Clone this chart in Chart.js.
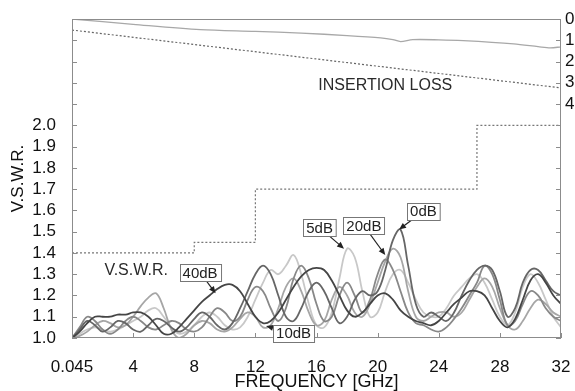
<!DOCTYPE html>
<html>
<head>
<meta charset="utf-8">
<script src="https://cdn.jsdelivr.net/npm/chart.js@4.4.0/dist/chart.umd.min.js"></script>
<style>
  html, body { margin: 0; padding: 0; background: #fff; overflow: hidden; }
  #wrap { width: 575px; height: 391px; }
</style>
</head>
<body>
<div id="wrap"><canvas id="vswr" width="575" height="391"></canvas></div>
<script>
// frequency grid of the measured traces (GHz)
const freqGHz = [
  0, 0.5, 1, 1.5, 2, 2.5, 3, 3.5,
  4, 4.5, 5, 5.5, 6, 6.5, 7, 7.5,
  8, 8.5, 9, 9.5, 10, 10.5, 11, 11.5,
  12, 12.5, 13, 13.5, 14, 14.5, 15, 15.5,
  16, 16.5, 17, 17.5, 18, 18.5, 19, 19.5,
  20, 20.5, 21, 21.5, 22, 22.5, 23, 23.5,
  24, 24.5, 25, 25.5, 26, 26.5, 27, 27.5,
  28, 28.5, 29, 29.5, 30, 30.5, 31, 31.5,
  32
];

// V.S.W.R. per attenuation setting
const vswr0dB = [
  1.00, 1.04, 1.08, 1.06, 1.03, 1.05, 1.08, 1.07,
  1.04, 1.03, 1.06, 1.09, 1.08, 1.05, 1.03, 1.05,
  1.09, 1.12, 1.10, 1.06, 1.04, 1.07, 1.14, 1.22,
  1.30, 1.34, 1.30, 1.20, 1.10, 1.08, 1.14, 1.22,
  1.26, 1.22, 1.14, 1.07, 1.10, 1.18, 1.22, 1.20,
  1.22, 1.32, 1.46, 1.51, 1.34, 1.16, 1.10, 1.12,
  1.10, 1.08, 1.12, 1.20, 1.27, 1.32, 1.34, 1.32,
  1.22, 1.10, 1.14, 1.26, 1.32, 1.32, 1.27, 1.22,
  1.20
];
const vswr5dB = [
  1.00, 1.02, 1.04, 1.05, 1.04, 1.03, 1.04, 1.06,
  1.08, 1.10, 1.13, 1.14, 1.10, 1.05, 1.02, 1.03,
  1.06, 1.10, 1.12, 1.10, 1.06, 1.04, 1.05, 1.10,
  1.18, 1.26, 1.32, 1.30, 1.34, 1.39, 1.30, 1.16,
  1.06, 1.05, 1.12, 1.28, 1.42, 1.38, 1.22, 1.10,
  1.12, 1.22, 1.30, 1.32, 1.26, 1.18, 1.12, 1.10,
  1.10, 1.14, 1.20, 1.24, 1.28, 1.30, 1.26, 1.18,
  1.10, 1.06, 1.12, 1.24, 1.30, 1.26, 1.18, 1.10,
  1.05
];
const vswr10dB = [
  1.00, 1.01, 1.03, 1.06, 1.08, 1.07, 1.05, 1.06,
  1.10, 1.15, 1.19, 1.21, 1.14, 1.04, 1.00, 1.02,
  1.06, 1.08, 1.07, 1.04, 1.03, 1.05, 1.09, 1.12,
  1.10, 1.05, 1.06, 1.14, 1.24, 1.28, 1.22, 1.12,
  1.06, 1.08, 1.18, 1.24, 1.20, 1.12, 1.10, 1.16,
  1.26, 1.36, 1.42, 1.38, 1.22, 1.10, 1.08, 1.10,
  1.12, 1.12, 1.10, 1.12, 1.18, 1.24, 1.28, 1.24,
  1.14, 1.06, 1.04, 1.08, 1.14, 1.18, 1.16, 1.12,
  1.10
];
const vswr20dB = [
  1.00, 1.05, 1.10, 1.08, 1.04, 1.02, 1.04, 1.08,
  1.10, 1.08, 1.05, 1.04, 1.06, 1.08, 1.07, 1.04,
  1.03, 1.05, 1.10, 1.14, 1.12, 1.08, 1.10, 1.18,
  1.24, 1.22, 1.14, 1.08, 1.14, 1.28, 1.34, 1.28,
  1.16, 1.08, 1.10, 1.20, 1.26, 1.20, 1.12, 1.18,
  1.30, 1.37, 1.32, 1.22, 1.12, 1.07, 1.06, 1.04,
  1.03, 1.05, 1.09, 1.14, 1.20, 1.26, 1.34, 1.30,
  1.18, 1.06, 1.08, 1.16, 1.22, 1.20, 1.14, 1.10,
  1.08
];
const vswr40dB = [
  1.00, 1.03, 1.07, 1.10, 1.10, 1.10, 1.11, 1.11,
  1.12, 1.12, 1.10, 1.06, 1.02, 1.02, 1.05, 1.09,
  1.13, 1.17, 1.20, 1.23, 1.25, 1.25, 1.22, 1.16,
  1.10, 1.07, 1.08, 1.12, 1.18, 1.24, 1.29, 1.32,
  1.33, 1.32, 1.27, 1.20, 1.13, 1.10, 1.12, 1.16,
  1.20, 1.21, 1.18, 1.13, 1.10, 1.08, 1.07, 1.06,
  1.08, 1.12, 1.16, 1.19, 1.22, 1.22, 1.20, 1.14,
  1.08, 1.05, 1.09, 1.18, 1.27, 1.30, 1.26, 1.20,
  1.16
];

// V.S.W.R. specification limit (step line)
const specFreq = [0, 8, 12, 26.5, 32];
const specVswr = [1.4, 1.45, 1.7, 2.0, 2.0];

// insertion loss (dB, right axis)
const lossFreq = [0, 4, 8.4, 12, 15, 18, 20.2, 21, 21.5, 22.3, 24, 25.6, 28.9, 30.5, 31.3, 32];
const lossMeasured = [0, 0.25, 0.5, 0.58, 0.66, 0.78, 0.89, 0.97, 1.06, 0.97, 0.98, 1.02, 1.17, 1.30, 1.36, 1.31];
const lossSpecFreq = [0, 32];
const lossSpec = [0.52, 3.24];

// tick labels
const freqTickLabels = ['0.045', '4', '8', '12', '16', '20', '24', '28', '32'];
const vswrTickLabels = ['1.0', '1.1', '1.2', '1.3', '1.4', '1.5', '1.6', '1.7', '1.8', '1.9', '2.0'];
const lossTickLabels = ['0', '1', '2', '3', '4'];

// callout boxes: text, box centre and arrow tip in data units
const callouts = [
  { text: '40dB', x: 8.38, y: 1.308, tipX: 9.4, tipY: 1.21 },
  { text: '5dB', x: 16.2, y: 1.519, tipX: 17.8, tipY: 1.42 },
  { text: '20dB', x: 19.1, y: 1.528, tipX: 20.5, tipY: 1.39 },
  { text: '0dB', x: 23.0, y: 1.596, tipX: 21.4, tipY: 1.51 },
  { text: '10dB', x: 14.5, y: 1.023, tipX: 12.7, tipY: 1.056 }
];

const FONT = '"Liberation Sans", Arial, Helvetica, sans-serif';
const pts = (xs, ys) => xs.map((x, i) => ({ x: x, y: ys[i] }));

const trace = (label, ys, color) => ({
  label: label,
  data: pts(freqGHz, ys),
  borderColor: color,
  borderWidth: 1.8,
  pointRadius: 0,
  tension: 0.4,
  yAxisID: 'y'
});

const decor = {
  id: 'decor',
  afterDatasetsDraw(chart) {
    const { ctx, chartArea: a, scales } = chart;
    const x = scales.x, y = scales.y, y2 = scales.y2;
    ctx.save();

    // frame
    ctx.strokeStyle = '#8c8c8c';
    ctx.lineWidth = 1;
    ctx.strokeRect(a.left + 0.5, a.top + 0.5, a.right - a.left - 1, a.bottom - a.top - 1);

    // inner tick marks
    ctx.beginPath();
    y.ticks.forEach(t => {
      const py = Math.round(y.getPixelForValue(t.value)) + 0.5;
      ctx.moveTo(a.left, py); ctx.lineTo(a.left + 5, py);
      ctx.moveTo(a.right, py); ctx.lineTo(a.right - 5, py);
    });
    x.ticks.forEach(t => {
      const px = Math.round(x.getPixelForValue(t.value)) + 0.5;
      ctx.moveTo(px, a.bottom); ctx.lineTo(px, a.bottom - 5);
    });
    ctx.stroke();

    // free text
    ctx.fillStyle = '#2a2a2a';
    ctx.textAlign = 'center';
    ctx.textBaseline = 'middle';
    ctx.font = '16px ' + FONT;
    ctx.fillText('V.S.W.R.', x.getPixelForValue(4.2), y.getPixelForValue(1.318));
    ctx.fillText('INSERTION LOSS', x.getPixelForValue(20.5), y2.getPixelForValue(3.15));

    // callouts with arrows
    ctx.font = '15px ' + FONT;
    callouts.forEach(c => {
      const cx = x.getPixelForValue(c.x), cy = y.getPixelForValue(c.y);
      const tx = x.getPixelForValue(c.tipX), ty = y.getPixelForValue(c.tipY);
      const ang = Math.atan2(ty - cy, tx - cx);
      ctx.strokeStyle = '#222';
      ctx.fillStyle = '#222';
      ctx.lineWidth = 1.2;
      ctx.beginPath();
      ctx.moveTo(cx, cy);
      ctx.lineTo(tx - 5 * Math.cos(ang), ty - 5 * Math.sin(ang));
      ctx.stroke();
      ctx.beginPath();
      ctx.moveTo(tx, ty);
      ctx.lineTo(tx - 7 * Math.cos(ang) + 3 * Math.sin(ang), ty - 7 * Math.sin(ang) - 3 * Math.cos(ang));
      ctx.lineTo(tx - 7 * Math.cos(ang) - 3 * Math.sin(ang), ty - 7 * Math.sin(ang) + 3 * Math.cos(ang));
      ctx.closePath();
      ctx.fill();

      const w = ctx.measureText(c.text).width + 6, h = 17;
      const bx = Math.round(cx - w / 2) + 0.5, by = Math.round(cy - h / 2) + 0.5;
      ctx.fillStyle = '#fff';
      ctx.fillRect(bx, by, w, h);
      ctx.strokeStyle = '#777';
      ctx.lineWidth = 1;
      ctx.strokeRect(bx, by, w, h);
      ctx.fillStyle = '#222';
      ctx.fillText(c.text, cx, cy + 1);
    });
    ctx.restore();
  }
};

new Chart(document.getElementById('vswr'), {
  type: 'line',
  data: {
    datasets: [
      trace('40dB', vswr40dB, '#454545'),
      trace('0dB', vswr0dB, '#666666'),
      trace('20dB', vswr20dB, '#888888'),
      trace('10dB', vswr10dB, '#a6a6a6'),
      trace('5dB', vswr5dB, '#c8c8c8'),
      {
        label: 'V.S.W.R. limit',
        data: pts(specFreq, specVswr),
        stepped: 'before',
        borderColor: '#777',
        borderWidth: 1.2,
        borderDash: [2, 2],
        pointRadius: 0,
        yAxisID: 'y'
      },
      {
        label: 'Insertion loss',
        data: pts(lossFreq, lossMeasured),
        borderColor: '#a8a8a8',
        borderWidth: 1.3,
        pointRadius: 0,
        tension: 0.3,
        yAxisID: 'y2'
      },
      {
        label: 'Insertion loss limit',
        data: pts(lossSpecFreq, lossSpec),
        borderColor: '#666',
        borderWidth: 1.2,
        borderDash: [2, 2],
        pointRadius: 0,
        yAxisID: 'y2'
      }
    ]
  },
  options: {
    responsive: false,
    animation: false,
    devicePixelRatio: 1,
    layout: { padding: { top: 19, left: 0, right: 0, bottom: 0 } },
    plugins: { legend: { display: false }, tooltip: { enabled: false } },
    scales: {
      x: {
        type: 'linear',
        min: 0,
        max: 32,
        grid: { display: false },
        border: { display: false },
        ticks: {
          stepSize: 4,
          autoSkip: false,
          maxRotation: 0,
          padding: 11,
          color: '#111',
          font: { family: FONT, size: 17 },
          callback: (v) => freqTickLabels[Math.round(v / 4)] ?? ''
        },
        title: {
          display: true,
          text: 'FREQUENCY [GHz]',
          color: '#111',
          font: { family: FONT, size: 18, lineHeight: 1 },
          padding: { top: 0, bottom: 0 }
        },
        afterFit: (s) => { s.height = 53; s.paddingLeft = 0; s.paddingRight = 0; }
      },
      y: {
        position: 'left',
        min: 1.0,
        max: 2.5,
        grid: { display: false },
        border: { display: false },
        ticks: {
          stepSize: 0.1,
          autoSkip: false,
          padding: 8,
          color: '#111',
          font: { family: FONT, size: 17 },
          callback: (v) => vswrTickLabels[Math.round((v - 1) * 10)] ?? ''
        },
        title: {
          display: true,
          text: 'V.S.W.R.',
          color: '#111',
          font: { family: FONT, size: 17, lineHeight: 1.1 },
          padding: { top: 9, bottom: 0 }
        },
        afterFit: (s) => { s.width = 72; s.paddingTop = 0; s.paddingBottom = 0; }
      },
      y2: {
        position: 'right',
        min: 0,
        max: 15,
        reverse: true,
        grid: { display: false, drawTicks: false, tickLength: 0 },
        border: { display: false },
        ticks: {
          stepSize: 1,
          autoSkip: false,
          padding: 4,
          color: '#111',
          font: { family: FONT, size: 17 },
          callback: (v) => lossTickLabels[Math.round(v)] ?? ''
        },
        afterFit: (s) => { s.width = 14; s.paddingTop = 0; s.paddingBottom = 0; }
      }
    }
  },
  plugins: [decor]
});
</script>
</body>
</html>
